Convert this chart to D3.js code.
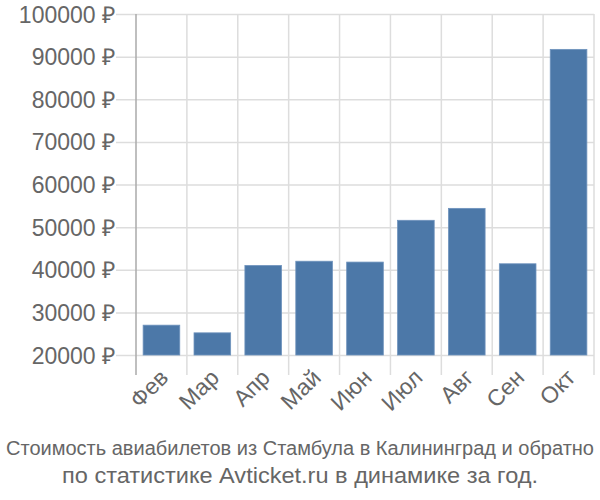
<!DOCTYPE html>
<html lang="ru">
<head>
<meta charset="UTF-8">
<title>Стоимость авиабилетов</title>
<script src="https://d3js.org/d3.v7.min.js"></script>
<style>
    body { margin: 0; background: #fff; }
    svg { display: block; }
    .yAxis text, .xAxis text { fill: #666; font-family: "Liberation Sans", Arial, sans-serif; font-size: 23px; }
    .title { fill: #666; font-family: "Liberation Sans", Arial, sans-serif; }
</style>
</head>
<body>
<svg width="600" height="500"></svg>
<script>
    // data
    let months = ["Фев", "Мар", "Апр", "Май", "Июн", "Июл", "Авг", "Сен", "Окт"];
    let prices = [27000, 25200, 41000, 42000, 41800, 51600, 54400, 41400, 91700];
    let yTicks = [20000, 30000, 40000, 50000, 60000, 70000, 80000, 90000, 100000];
    let titleLines = ["Стоимость авиабилетов из Стамбула в Калининград и обратно",
                      "по статистике Avticket.ru в динамике за год."];

    let svg = d3.select("svg");
    let margins = {left: 136, right: 6, top: 14, bottom: 145};
    let W = 600, H = 500;

    let xScale = d3.scaleBand()
        .domain(months)
        .range([margins.left, W - margins.right])
        .paddingInner(0.28)
        .paddingOuter(0.14);
    let yScale = d3.scaleLinear()
        .domain([20000, 100000])
        .range([H - margins.bottom, margins.top]);

    // horizontal grid + y labels
    let yAxis = svg.append("g")
        .attr("class", "yAxis")
        .attr("transform", "translate(" + margins.left + ",0)")
        .call(d3.axisLeft(yScale)
            .tickValues(yTicks)
            .tickSize(20)
            .tickFormat(function (d) { return d + " ₽"; }));
    yAxis.select(".domain").remove();
    yAxis.selectAll(".tick line")
        .attr("x2", W - margins.right - margins.left)
        .attr("x1", -20)
        .attr("stroke", "#ddd")
        .attr("stroke-width", 1.5);
    yAxis.selectAll(".tick text").attr("x", -21).attr("dy", "0.35em");

    // vertical grid at band edges
    let bounds = d3.range(months.length + 1).map(function (i) { return margins.left + i * xScale.step(); });
    svg.append("g").selectAll("line")
        .data(bounds)
        .enter().append("line")
        .attr("x1", function (d) { return d; })
        .attr("x2", function (d) { return d; })
        .attr("y1", margins.top)
        .attr("y2", H - margins.bottom + 20)
        .attr("stroke", function (d, i) { return i === 0 ? "#aaa" : "#ddd"; })
        .attr("stroke-width", 1.5);

    // bars
    svg.append("g").selectAll("rect")
        .data(prices)
        .enter().append("rect")
        .attr("x", function (d, i) { return xScale(months[i]); })
        .attr("y", function (d) { return yScale(d); })
        .attr("width", xScale.bandwidth())
        .attr("height", function (d) { return yScale(20000) - yScale(d); })
        .attr("fill", "#4c78a8")
        .attr("stroke", "#6f93bd")
        .attr("stroke-width", 0.8);

    // x labels
    let xAxis = svg.append("g")
        .attr("class", "xAxis")
        .attr("transform", "translate(0," + (H - margins.bottom) + ")")
        .call(d3.axisBottom(xScale).tickSize(0));
    xAxis.select(".domain").remove();
    xAxis.selectAll(".tick text")
        .attr("text-anchor", "end")
        .attr("dy", "0")
        .attr("transform", "translate(6,22) rotate(-45)");

    // title: two centred lines
    let titleSizes = [19.5, 22];
    let titleWidths = [588, 476];
    svg.append("g").selectAll("text")
        .data(titleLines)
        .enter().append("text")
        .attr("class", "title")
        .attr("x", W / 2)
        .attr("y", function (d, i) { return 455 + i * 28; })
        .attr("font-size", function (d, i) { return titleSizes[i] + "px"; })
        .attr("text-anchor", "middle")
        .attr("textLength", function (d, i) { return titleWidths[i]; })
        .attr("lengthAdjust", "spacingAndGlyphs")
        .text(function (d) { return d; });
</script>
</body>
</html>
